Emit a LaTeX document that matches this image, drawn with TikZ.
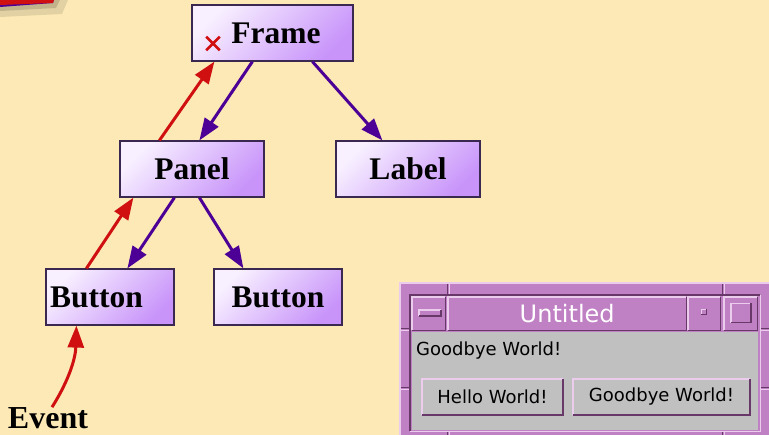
\documentclass[tikz,border=0pt]{standalone}
\usepackage{fontspec}
\setmainfont{Liberation Serif}
\newfontfamily\winfont{DejaVu Sans}
\usetikzlibrary{arrows.meta,shapes.misc}
\definecolor{paper}{RGB}{252,233,181}
\definecolor{boxlight}{RGB}{248,240,255}
\definecolor{boxdark}{RGB}{200,148,250}
\definecolor{boxline}{RGB}{58,40,80}
\definecolor{callred}{RGB}{208,16,16}
\definecolor{linkpurple}{RGB}{76,0,150}
\definecolor{winpurple}{RGB}{192,128,196}
\definecolor{winlight}{RGB}{236,204,236}
\definecolor{windark}{RGB}{104,56,104}
\definecolor{wingrey}{RGB}{192,192,192}
\newcommand{\bevel}[1]{%
  \draw[winlight,line width=1.5pt] (#1.south west) |- (#1.north east);
  \draw[windark,line width=1.5pt] (#1.south west) -| (#1.north east);
}

\begin{document}
\begin{tikzpicture}[
        x=1pt, y=-1pt,
        every node/.style={inner sep=0pt},
        box/.style={draw=boxline, line width=1.2pt, top color=boxlight,
          bottom color=boxdark, shading angle=45, minimum height=56pt,
          font=\bfseries\fontsize{31.5}{31.5}\selectfont},
        tochild/.style={draw=linkpurple, line width=3pt,
          -{Triangle[length=22pt,width=16pt]}},
        toparent/.style={tochild, draw=callred},
        winpart/.style={fill=winpurple},
        winbtn/.style={fill=wingrey, font=\winfont\fontsize{18}{18}\selectfont},
      ]
      \useasboundingbox[fill=paper] (0,0) rectangle (769,435);
      % corner tab
      \fill[black, opacity=0.10] (0,0) -- (68,0) -- (62,14) -- (0,17) -- cycle;
      \fill[black, opacity=0.14] (0,0) -- (60,0) -- (56,8) -- (0,11) -- cycle;
      \fill[linkpurple] (0,0) -- (54,0) -- (53,3) -- (0,7) -- cycle;
      \fill[callred] (0,0) -- (54,0) -- (53,3) -- (0,5) -- cycle;

      % component tree
      \node[box, minimum width=161pt] (frame) at (272.5,33) {\hspace*{7pt}Frame};
      \node[box, minimum width=144pt] (panel) at (192,169) {Panel};
      \node[box, minimum width=144pt] (label) at (408,169) {Label};
      \node[box, minimum width=128pt] (button1) at (110,297) {Button\hspace*{27pt}};
      \node[box, minimum width=128pt] (button2) at (278,297) {Button};
      \node[cross out, draw=callred, line width=2.6pt, minimum size=11pt] (cross) at (213,43.5) {};
      \node[font=\bfseries\fontsize{32}{32}\selectfont, inner sep=2pt] (event) at (48,418) {Event};

      \draw[toparent] ([xshift=40pt]panel.north west) -- ([xshift=23pt]frame.south west);
      \draw[tochild] ([xshift=61pt]frame.south west) -- ([xshift=80pt]panel.north west);
      \draw[tochild] ([xshift=121pt]frame.south west) -- ([xshift=47pt]label.north west);
      \draw[toparent] ([xshift=41pt]button1.north west) -- ([xshift=14pt]panel.south west);
      \draw[tochild] ([xshift=55pt]panel.south west) -- ([xshift=82pt]button1.north west);
      \draw[tochild] ([xshift=80pt]panel.south west) -- ([xshift=30pt]button2.north west);
      \draw[toparent] ([xshift=4pt,yshift=-2pt]event.north) .. controls +(14,-22) and +(-1,36) .. ([xshift=31pt]button1.south west);

      % the running window
      \node[winpart, minimum width=369pt, minimum height=152pt, anchor=north west] (window) at (400,283) {};
      \draw[winlight, line width=1.5pt] (window.south west) |- (window.north east);
      \draw[windark, line width=1pt] (447,284) -- (447,296) (722,284) -- (722,296)
        (447,429) -- (447,435) (722,429) -- (722,435)
        (401,329) -- (410,329) (401,388) -- (410,388) (760,329) -- (769,329) (760,388) -- (769,388);
      \draw[winlight, line width=1pt] (449,284) -- (449,296) (724,284) -- (724,296)
        (449,429) -- (449,435) (724,429) -- (724,435)
        (401,331) -- (410,331) (401,390) -- (410,390) (760,331) -- (769,331) (760,390) -- (769,390);
      \node[winpart, minimum width=350pt, minimum height=136pt, anchor=north west] (inner) at (410,295) {};
      \draw[windark, line width=1.5pt] (inner.south west) |- (inner.north east);
      \draw[winlight, line width=1.5pt] (inner.south west) -| (inner.north east);
      \node[winpart, minimum width=33pt, minimum height=33pt, anchor=north west] (minbox) at (412,297) {};
      \node[winpart, minimum width=238pt, minimum height=33pt, anchor=north west,
        text=white, font=\winfont\fontsize{24}{24}\selectfont] (titlebar) at (448,297) {Untitled};
      \node[winpart, minimum width=32pt, minimum height=33pt, anchor=north west] (pinbox) at (688,297) {};
      \node[winpart, minimum width=33pt, minimum height=33pt, anchor=north west] (maxbox) at (724,297) {};
      \node[winpart, minimum width=22pt, minimum height=6pt] (minbar) at (430,313) {};
      \node[winpart, minimum width=5pt, minimum height=5pt] (pinmark) at (704,312) {};
      \node[winpart, minimum width=20pt, minimum height=19pt] (maxmark) at (741,313) {};
      \bevel{minbox}
      \bevel{titlebar}
      \bevel{pinbox}
      \bevel{maxbox}
      \bevel{minbar}
      \bevel{pinmark}
      \bevel{maxmark}
      \node[fill=wingrey, minimum width=346pt, minimum height=98pt, anchor=north west] (body) at (412,332) {};
      \node[font=\winfont\fontsize{18}{18}\selectfont, anchor=west] (message) at (416,351) {Goodbye World!};
      \node[winbtn, minimum width=141pt, minimum height=36pt] (hello) at (492.5,397) {Hello World!};
      \node[winbtn, minimum width=177pt, minimum height=36pt] (goodbye) at (661.5,397) {Goodbye World!};
      \bevel{hello}
      \bevel{goodbye}
\end{tikzpicture}
\end{document}
